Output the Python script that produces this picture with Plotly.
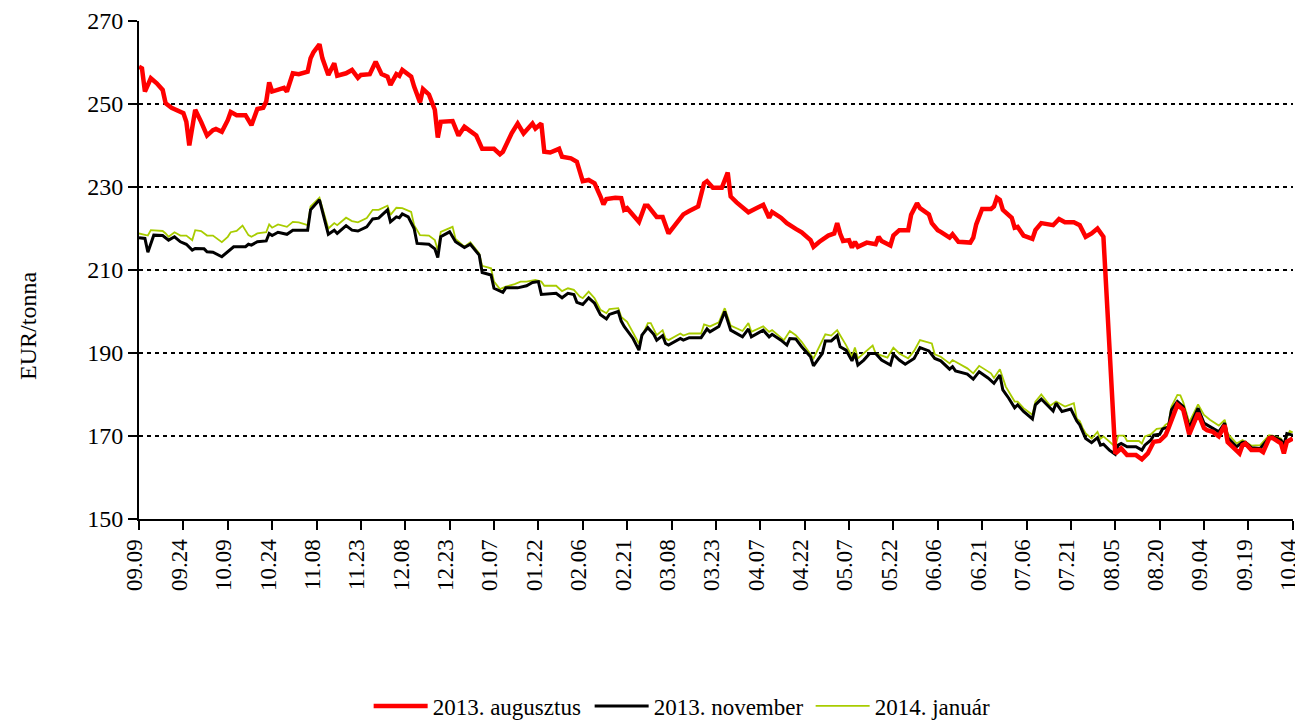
import pandas as pd
import plotly.graph_objects as go

# Days elapsed since 2012-09-09 (first day on the time axis) and prices in EUR/tonna
start_date = "2012-09-09"
end_date = "2013-10-04"

aug_days = [0, 1, 2, 4, 6, 8, 9, 11, 15, 16, 17, 19, 21, 23, 25, 26, 28, 30, 31, 33,
            36, 38, 40, 42, 43, 44, 45, 48, 49, 50, 52, 54, 57, 58, 59, 61, 62, 64, 66, 67,
            70, 72, 74, 75, 78, 80, 82, 84, 85, 87, 88, 89, 92, 93, 95, 96, 98, 100, 101, 102,
            106, 108, 110, 114, 116, 120, 122, 123, 126, 128, 130, 133, 134, 136, 137, 139, 142, 143, 146, 148,
            149, 150, 152, 154, 156, 157, 158, 161, 163, 164, 165, 169, 171, 172, 175, 177, 179, 181, 183, 184,
            186, 189, 191, 192, 194, 197, 199, 200, 202, 205, 206, 209, 211, 213, 214, 217, 219, 222, 224, 227,
            228, 230, 233, 235, 236, 237, 238, 240, 241, 242, 243, 246, 249, 250, 251, 254, 255, 257, 260, 261,
            263, 264, 267, 268, 270, 271, 274, 275, 277, 281, 282, 283, 285, 288, 289, 290, 291, 292, 295, 296,
            297, 299, 302, 303, 305, 309, 311, 313, 316, 318, 320, 322, 324, 326, 330, 332, 334, 337, 339, 341,
            343, 345, 347, 348, 351, 353, 355, 358, 360, 361, 363, 365, 367, 368, 370, 372, 373, 374, 376, 379,
            380, 382, 383, 386, 387, 388, 390]
aug_values = [259.0, 258.6, 253.0, 256.2, 255.0, 253.4, 250.2, 249.1, 247.8, 245.7, 240.0, 248.6, 245.7, 242.4, 243.7, 244.0, 243.3, 246.1, 248.1, 247.3,
              247.3, 244.9, 248.8, 249.1, 250.6, 255.2, 253.0, 253.6, 253.9, 253.0, 257.4, 257.2, 257.8, 261.0, 262.5, 264.4, 261.0, 257.0, 259.8, 256.8,
              257.4, 258.2, 256.3, 257.0, 257.2, 260.2, 257.2, 256.6, 254.6, 257.2, 256.8, 258.2, 256.6, 254.2, 250.4, 253.6, 252.3, 248.6, 241.9, 245.7,
              245.9, 242.4, 244.5, 242.4, 239.2, 239.2, 237.9, 238.5, 243.0, 245.3, 242.9, 245.3, 244.1, 245.3, 238.5, 238.3, 239.2, 237.3, 236.9, 236.1,
              233.7, 231.4, 231.7, 230.9, 227.7, 225.8, 227.1, 227.4, 227.3, 224.5, 224.9, 221.6, 225.5, 225.5, 222.8, 222.8, 218.8, 220.7, 222.8, 223.4,
              224.2, 225.3, 230.9, 231.4, 229.8, 229.8, 233.5, 227.7, 226.3, 224.5, 223.9, 225.0, 225.7, 222.6, 224.0, 222.6, 221.3, 219.9, 219.1, 217.2,
              215.6, 216.8, 218.3, 218.8, 221.3, 218.8, 217.0, 217.2, 215.4, 216.8, 215.6, 216.6, 216.2, 218.0, 217.0, 215.9, 218.3, 219.6, 219.6, 223.3,
              226.1, 224.9, 223.4, 221.3, 219.6, 219.2, 217.8, 218.6, 216.8, 216.6, 217.8, 221.0, 224.7, 224.7, 225.3, 227.4, 226.9, 224.5, 222.6, 220.2,
              220.4, 218.3, 217.5, 219.6, 221.3, 220.8, 222.3, 221.5, 221.5, 220.8, 218.0, 218.8, 220.0, 218.0, 165.8, 167.0, 165.4, 165.4, 164.4, 165.8,
              168.6, 168.8, 170.2, 171.9, 177.5, 176.3, 170.4, 175.5, 171.9, 171.4, 171.0, 169.9, 172.6, 168.5, 167.0, 165.8, 167.8, 168.2, 166.6, 166.6,
              166.1, 169.4, 169.6, 168.2, 165.8, 168.6, 169.4]

nov_days = [0, 2, 3, 5, 8, 10, 12, 14, 16, 18, 19, 22, 23, 25, 28, 30, 32, 36, 37, 38,
            40, 43, 44, 45, 47, 50, 52, 57, 58, 61, 64, 66, 67, 70, 72, 74, 77, 79, 81, 84,
            85, 87, 88, 89, 91, 93, 94, 98, 100, 101, 102, 105, 107, 110, 112, 115, 116, 119, 120, 123,
            124, 128, 131, 133, 135, 136, 141, 143, 145, 147, 148, 150, 152, 154, 156, 158, 159, 162, 163, 164,
            167, 169, 170, 172, 174, 175, 177, 178, 179, 183, 184, 186, 190, 192, 193, 196, 198, 200, 204, 206,
            207, 211, 213, 214, 217, 219, 220, 222, 224, 227, 228, 231, 232, 234, 236, 237, 239, 241, 242, 243,
            245, 247, 249, 251, 254, 255, 257, 259, 262, 264, 267, 269, 271, 274, 275, 276, 280, 282, 284, 287,
            289, 291, 292, 294, 296, 297, 299, 302, 303, 305, 309, 310, 312, 315, 317, 318, 319, 320, 322, 324,
            325, 326, 328, 330, 331, 332, 334, 337, 339, 340, 342, 343, 345, 346, 348, 349, 351, 353, 355, 358,
            360, 362, 365, 367, 368, 371, 373, 374, 376, 379, 382, 383, 386, 387, 388, 390]
nov_values = [217.8, 217.6, 214.3, 218.4, 218.3, 217.2, 218.0, 216.8, 216.2, 214.8, 215.2, 215.1, 214.4, 214.3, 213.2, 214.3, 215.6, 215.6, 216.2, 216.0,
              216.8, 217.0, 218.8, 218.3, 219.1, 218.6, 219.6, 219.6, 224.5, 226.9, 218.6, 219.6, 218.8, 220.7, 219.6, 219.4, 220.4, 222.3, 222.5, 224.5,
              221.6, 222.8, 222.6, 223.5, 222.8, 220.0, 216.4, 216.2, 215.1, 213.0, 218.0, 219.2, 216.8, 215.4, 216.2, 213.6, 209.4, 208.8, 205.6, 204.6,
              205.7, 205.7, 206.2, 207.0, 207.2, 204.1, 204.4, 203.3, 204.4, 204.1, 202.2, 201.7, 203.3, 202.0, 199.2, 198.2, 199.3, 200.0, 197.7, 196.4,
              193.5, 190.7, 194.3, 196.1, 194.5, 193.1, 194.2, 192.3, 191.9, 193.5, 193.1, 193.7, 193.7, 195.8, 195.1, 196.4, 200.0, 195.5, 193.9, 195.8,
              193.9, 195.5, 193.9, 194.5, 193.1, 191.9, 193.5, 193.4, 191.5, 189.1, 186.9, 189.9, 192.9, 192.9, 194.2, 191.5, 190.7, 188.1, 189.9, 187.1,
              188.3, 189.9, 189.9, 188.3, 187.1, 189.7, 188.3, 187.3, 188.7, 191.3, 190.5, 188.7, 188.1, 186.1, 186.7, 185.7, 184.9, 183.7, 185.5, 184.0,
              182.7, 184.7, 181.1, 179.1, 176.8, 177.5, 175.9, 174.1, 177.5, 178.9, 176.0, 177.9, 175.9, 176.5, 173.6, 172.7, 171.0, 169.4, 168.4, 169.6,
              167.8, 168.0, 166.6, 165.6, 167.8, 168.2, 167.4, 167.4, 166.6, 167.8, 169.0, 170.2, 170.4, 171.7, 172.2, 176.3, 178.3, 177.1, 172.0, 176.7,
              173.1, 172.2, 171.0, 173.1, 169.6, 167.4, 168.5, 168.5, 167.2, 167.0, 169.6, 169.9, 169.0, 167.8, 170.6, 170.2]

jan_days = [0, 3, 4, 8, 9, 10, 12, 14, 16, 18, 19, 21, 23, 25, 28, 30, 31, 33, 35, 37,
            38, 40, 43, 44, 45, 47, 50, 52, 54, 57, 58, 61, 64, 66, 67, 70, 72, 74, 77, 79,
            81, 84, 85, 87, 89, 92, 93, 95, 98, 100, 101, 102, 106, 107, 110, 112, 115, 116, 119, 120,
            122, 124, 127, 129, 131, 134, 136, 137, 141, 143, 145, 147, 149, 150, 152, 154, 156, 158, 159, 162,
            163, 165, 169, 172, 173, 175, 177, 178, 179, 183, 184, 186, 190, 191, 193, 196, 198, 200, 204, 206,
            207, 211, 213, 214, 218, 220, 222, 224, 228, 232, 234, 236, 239, 241, 242, 243, 248, 249, 253, 255,
            257, 260, 262, 264, 268, 269, 271, 274, 275, 280, 282, 284, 288, 289, 291, 293, 296, 297, 299, 302,
            303, 305, 308, 310, 313, 316, 317, 318, 319, 320, 322, 324, 325, 326, 330, 331, 333, 334, 338, 339,
            340, 342, 344, 346, 347, 348, 349, 351, 352, 353, 355, 358, 360, 362, 365, 367, 368, 371, 373, 376,
            379, 382, 383, 386, 387, 389, 390]
jan_values = [218.8, 218.3, 219.6, 219.4, 218.8, 218.0, 219.1, 218.3, 218.3, 217.2, 219.6, 219.4, 218.3, 218.3, 216.7, 218.0, 219.1, 219.4, 220.7, 218.4,
              218.0, 218.8, 219.1, 221.0, 220.2, 221.0, 220.4, 221.6, 221.5, 220.8, 225.3, 227.4, 220.0, 221.3, 220.8, 222.6, 221.8, 221.5, 222.5, 224.5,
              224.5, 225.5, 223.3, 225.0, 224.9, 224.0, 220.8, 218.4, 218.3, 217.2, 214.8, 219.2, 220.4, 217.5, 215.6, 216.7, 214.0, 211.0, 210.4, 207.2,
              205.4, 206.0, 206.6, 207.2, 207.2, 207.6, 207.2, 206.2, 206.2, 204.9, 205.6, 205.2, 203.6, 203.2, 204.8, 203.2, 200.4, 199.6, 200.6, 200.8,
              198.7, 197.5, 192.3, 197.2, 197.2, 194.3, 195.5, 193.5, 193.1, 194.7, 194.2, 194.7, 194.7, 196.9, 196.4, 197.4, 200.8, 196.6, 195.3, 197.2,
              195.1, 196.4, 195.1, 195.5, 193.1, 195.3, 194.3, 192.7, 188.7, 194.5, 194.2, 195.5, 191.9, 189.1, 191.3, 188.7, 191.8, 189.9, 188.9, 191.3,
              189.9, 188.7, 190.5, 193.1, 192.3, 189.7, 189.1, 187.5, 188.3, 186.3, 185.1, 186.9, 185.1, 184.0, 186.1, 181.9, 178.3, 178.3, 176.7, 175.1,
              178.3, 180.0, 177.3, 178.3, 177.1, 177.9, 174.2, 173.6, 171.9, 170.6, 169.4, 171.0, 169.3, 169.9, 167.4, 170.1, 170.1, 168.8, 168.8, 168.2,
              169.9, 170.4, 171.7, 171.9, 172.7, 173.1, 177.1, 179.9, 179.8, 178.1, 173.3, 177.6, 175.1, 173.9, 172.5, 173.9, 170.6, 168.2, 169.0, 167.7,
              167.8, 170.2, 170.1, 169.4, 168.2, 171.2, 170.9]

series_names = ["2013. augusztus", "2013. november", "2014. január"]
y_ticks = [150, 170, 190, 210, 230, 250, 270]
y_title = "EUR/tonna"

base = pd.Timestamp(start_date)


def to_dates(days):
    return base + pd.to_timedelta(days, unit="D")


x_ticks = pd.date_range(start_date, end_date, freq="15D")

FONT = "Liberation Serif, Times New Roman, serif"

fig = go.Figure()
# drawn bottom-up: green, black, red
fig.add_trace(go.Scatter(x=to_dates(jan_days), y=jan_values, mode="lines", name=series_names[2],
                         line=dict(color="#A8CC00", width=1.8), legendrank=3))
fig.add_trace(go.Scatter(x=to_dates(nov_days), y=nov_values, mode="lines", name=series_names[1],
                         line=dict(color="#000000", width=3), legendrank=2))
fig.add_trace(go.Scatter(x=to_dates(aug_days), y=aug_values, mode="lines", name=series_names[0],
                         line=dict(color="#FF0000", width=4.5), legendrank=1))

# the page body adds an 8px offset; the plot area is placed to match the reference
fig.update_layout(
    width=1315, height=713,
    margin=dict(l=131, r=30, t=13, b=202, autoexpand=False),
    paper_bgcolor="white", plot_bgcolor="white",
    font=dict(family=FONT, size=23, color="black"),
    showlegend=True,
    legend=dict(orientation="h", x=0.199, xanchor="left", y=-0.3755, yanchor="middle",
                font=dict(family=FONT, size=23), itemwidth=54,
                entrywidth=152, entrywidthmode="pixels",
                bgcolor="rgba(0,0,0,0)"),
    annotations=[dict(text=y_title, xref="paper", yref="paper", x=-0.0962, y=0.3876,
                      xanchor="center", yanchor="middle", textangle=-90, showarrow=False,
                      font=dict(family=FONT, size=24))],
)

fig.update_xaxes(
    type="date",
    range=[pd.Timestamp(start_date), pd.Timestamp(end_date) + pd.Timedelta(hours=2)],
    tickmode="array", tickvals=x_ticks, tickformat="%m.%d",
    tickangle=-90, ticks="outside", ticklen=9, tickwidth=2, tickcolor="black",
    ticklabeloverflow="allow", ticklabelshift=-4,
    showline=True, linecolor="black", linewidth=2,
    showgrid=False, zeroline=False, automargin=False,
    tickfont=dict(family=FONT, size=23),
)

fig.update_yaxes(
    range=[150, 270], tickmode="array", tickvals=y_ticks,
    ticks="outside", ticklen=9, tickwidth=2, tickcolor="black",
    showline=True, linecolor="black", linewidth=2,
    showgrid=True, gridcolor="black", gridwidth=1.6, griddash="4px,4px",
    zeroline=False, automargin=False,
    tickfont=dict(family=FONT, size=24),
)

fig.write_html("out.html")
